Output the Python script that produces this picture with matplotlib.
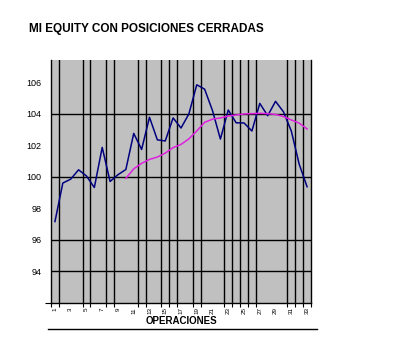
import matplotlib
matplotlib.use("Agg")
import matplotlib.pyplot as plt

# operation number and equity after each closed position
operaciones = list(range(1, 34))
equity = [97.16, 99.6, 99.85, 100.44, 100.05, 99.32, 101.86, 99.7, 100.13, 100.46,
          102.75, 101.73, 103.77, 102.34, 102.27, 103.73, 103.09, 103.98, 105.83, 105.55,
          104.19, 102.39, 104.23, 103.42, 103.41, 102.9, 104.65, 103.87, 104.78, 104.12,
          102.9, 100.8, 99.37]

# moving average, drawn from operation 10 onwards
media_ops = list(range(10, 34))
media = [99.9, 100.5, 100.85, 101.1, 101.25, 101.5, 101.85, 102.05, 102.4, 102.9,
         103.45, 103.65, 103.73, 103.85, 103.92, 103.98, 104.0, 104.02, 104.0, 103.95,
         103.82, 103.6, 103.4, 103.03]

y_labels = [94, 96, 98, 100, 102, 104, 106]
hgrid = [104, 100, 96, 94]
vgrid = [1.5, 4.5, 5.5, 7.5, 8.5, 11.5, 12.5, 14.5, 15.5, 16.5, 18.5, 19.5,
         22.5, 23.5, 24.5, 25.5, 26.5, 30.5, 31.5, 32.5]

plt.rcParams['font.family'] = ['Liberation Sans', 'DejaVu Sans']

fig = plt.figure(figsize=(4.0, 3.51), dpi=100)
ax = fig.add_axes([51 / 400, 48 / 351, 260 / 400, 243 / 351])
ax.set_facecolor('#c0c0c0')

for v in vgrid:
    ax.axvline(v, color='black', lw=1.0, zorder=1)
for h in hgrid:
    ax.axhline(h, color='black', lw=1.0, zorder=1)

ax.plot(operaciones, equity, color='#000080', lw=1.1, zorder=3)
ax.plot(media_ops, media, color='#e020e0', lw=1.1, zorder=3)

ax.set_xlim(0.5, 33.5)
ax.set_ylim(92, 107.4)

ax.set_xticks(operaciones[::2])
ax.set_xticklabels([str(o) for o in operaciones[::2]], rotation=90, fontsize=4.5)
ax.tick_params(axis='x', length=0, pad=3)
ax.set_xticks([0.5] + vgrid + [33.5], minor=True)
ax.tick_params(axis='x', which='minor', length=3, width=0.8)

ax.set_yticks(y_labels)
ax.set_yticklabels([str(v) for v in y_labels], fontsize=6.5)
ax.tick_params(axis='y', length=0, pad=7)
ax.set_yticks(hgrid + [92], minor=True)
ax.tick_params(axis='y', which='minor', length=4, width=0.8)

ax.set_xlabel('OPERACIONES', fontsize=7, fontweight='bold', labelpad=1)

ax.spines['top'].set_visible(False)
for s in ['left', 'bottom', 'right']:
    ax.spines[s].set_color('black')
    ax.spines[s].set_linewidth(1.0)

fig.text(29 / 400, 1 - 29 / 351, 'MI EQUITY CON POSICIONES CERRADAS',
         fontsize=8.5, fontweight='bold', va='center', ha='left')
# chart-area border line under the plot
ax.plot([-3 / 260, 266 / 260], [-26 / 243, -26 / 243], color='black', lw=1.0,
        transform=ax.transAxes, clip_on=False)

fig.savefig('out.png', dpi=100)
